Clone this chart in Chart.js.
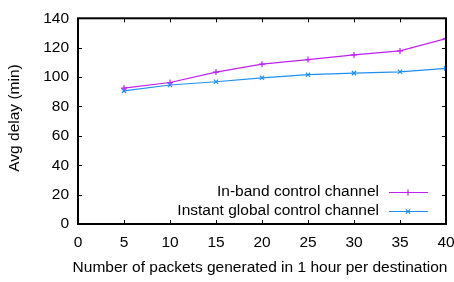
<!DOCTYPE html>
<html>
<head>
<meta charset="utf-8">
<script src="https://cdn.jsdelivr.net/npm/chart.js@4/dist/chart.umd.min.js"></script>
<style>
  html, body { margin: 0; padding: 0; background: #fff; }
  #wrap { width: 454px; height: 282px; }
</style>
</head>
<body>
<div id="wrap"><canvas id="c" width="454" height="282"></canvas></div>
<script>
// ── Data ─────────────────────────────────────────────────────────────────────
const packets   = [5, 10, 15, 20, 25, 30, 35, 40];
const inBand    = [92.5, 96.3, 103.4, 108.8, 111.9, 115.1, 117.8, 126.2];
const instant   = [90.6, 94.6, 96.8, 99.5, 101.6, 102.7, 103.6, 105.9];
const xTicks    = [0, 5, 10, 15, 20, 25, 30, 35, 40];
const yTicks    = [0, 20, 40, 60, 80, 100, 120, 140];

const seriesNames = ['In-band control channel', 'Instant global control channel'];
const COL_IN   = '#c020f0';
const COL_INST = '#2090f0';
const FONT = '"Liberation Sans", Arial, sans-serif';
const FSIZE = 15.5;

// ── Frame, mirror ticks, axis titles, legend ─────────────────────────────────
const framePlugin = {
  id: 'frame',
  afterDraw(chart) {
    const { ctx, chartArea: a, scales: { x, y } } = chart;
    const t = 4;
    ctx.save();
    ctx.strokeStyle = '#000';
    ctx.lineWidth = 2;
    ctx.strokeRect(a.left, a.top, a.right - a.left, a.bottom - a.top);
    ctx.lineWidth = 1;
    ctx.beginPath();
    xTicks.forEach(v => {
      const px = Math.round(x.getPixelForValue(v)) + 0.5;
      ctx.moveTo(px, a.bottom); ctx.lineTo(px, a.bottom - t);
      ctx.moveTo(px, a.top);    ctx.lineTo(px, a.top + t);
    });
    yTicks.forEach(v => {
      const py = Math.round(y.getPixelForValue(v)) + 0.5;
      ctx.moveTo(a.left, py);  ctx.lineTo(a.left + t, py);
      ctx.moveTo(a.right, py); ctx.lineTo(a.right - t, py);
    });
    ctx.stroke();

    // axis titles
    ctx.fillStyle = '#000';
    ctx.font = FSIZE + 'px ' + FONT;
    ctx.textAlign = 'center';
    ctx.textBaseline = 'middle';
    ctx.fillText('Number of packets generated in 1 hour per destination', 260, 268);
    ctx.save();
    ctx.translate(15, 118);
    ctx.rotate(-Math.PI / 2);
    ctx.fillText('Avg delay (min)', 0, 0);
    ctx.restore();

    // legend (text right-aligned, sample on the right)
    const rows = [
      { label: seriesNames[0], color: COL_IN,   y: 192, style: 'cross' },
      { label: seriesNames[1], color: COL_INST, y: 211, style: 'crossRot' },
    ];
    ctx.textAlign = 'right';
    rows.forEach(r => {
      ctx.fillStyle = '#000';
      ctx.fillText(r.label, 379, r.y);
      ctx.strokeStyle = r.color;
      ctx.lineWidth = 1.2;
      ctx.beginPath();
      ctx.moveTo(389, r.y + 0.5); ctx.lineTo(428, r.y + 0.5);
      ctx.stroke();
      Chart.helpers.drawPoint(ctx, { pointStyle: r.style, radius: 3, borderWidth: 1.2 }, 408, r.y + 0.5);
    });
    ctx.restore();
  }
};

function fixY(scale) { scale.width = 78; }
function fixX(scale) { scale.height = 58; scale.paddingLeft = 0; scale.paddingRight = 0; }

new Chart(document.getElementById('c'), {
  type: 'line',
  data: {
    datasets: [
      {
        label: seriesNames[0],
        data: packets.map((p, i) => ({ x: p, y: inBand[i] })),
        borderColor: COL_IN,
        backgroundColor: COL_IN,
        borderWidth: 1.2,
        pointStyle: 'cross',
        pointRadius: 3,
        pointBorderWidth: 1.2,
        tension: 0,
      },
      {
        label: seriesNames[1],
        data: packets.map((p, i) => ({ x: p, y: instant[i] })),
        borderColor: COL_INST,
        backgroundColor: COL_INST,
        borderWidth: 1.2,
        pointStyle: 'crossRot',
        pointRadius: 3,
        pointBorderWidth: 1.2,
        tension: 0,
      },
    ],
  },
  options: {
    responsive: false,
    animation: false,
    devicePixelRatio: 1,
    layout: { padding: { top: 13, right: 8, left: 0, bottom: 0 } },
    plugins: { legend: { display: false }, tooltip: { enabled: false } },
    scales: {
      x: {
        type: 'linear',
        min: 0, max: 40,
        afterBuildTicks: s => { s.ticks = xTicks.map(v => ({ value: v })); },
        afterFit: fixX,
        grid: { display: false, drawTicks: false },
        border: { display: false },
        ticks: { color: '#000', font: { family: FONT, size: FSIZE }, padding: 9, maxRotation: 0, autoSkip: false },
      },
      y: {
        min: 0, max: 140,
        afterBuildTicks: s => { s.ticks = yTicks.map(v => ({ value: v })); },
        afterFit: fixY,
        grid: { display: false, drawTicks: false },
        border: { display: false },
        ticks: { color: '#000', font: { family: FONT, size: FSIZE }, padding: 9 },
      },
    },
  },
  plugins: [framePlugin],
});
</script>
</body>
</html>
